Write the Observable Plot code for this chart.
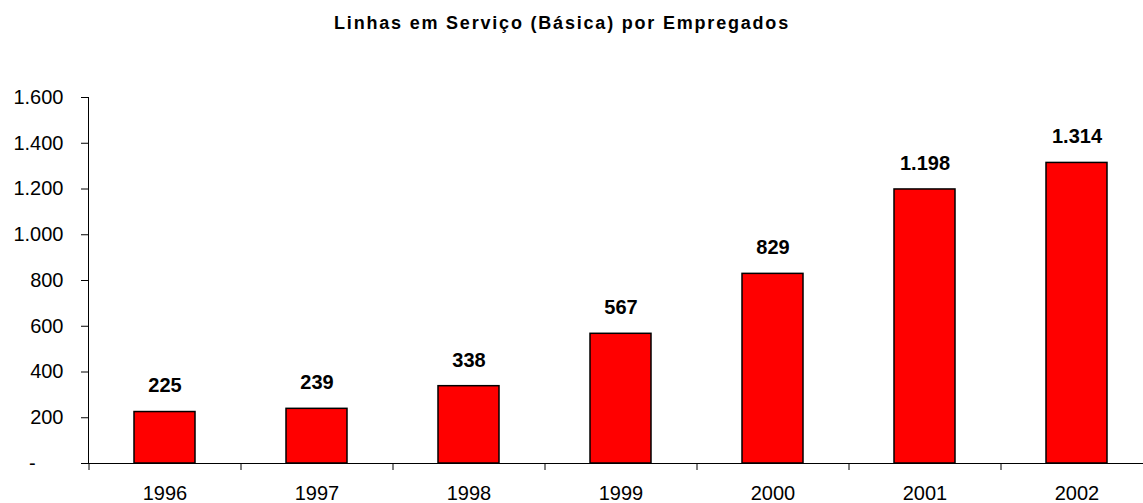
<!DOCTYPE html>
<html>
<head>
<meta charset="utf-8">
<script src="https://cdn.jsdelivr.net/npm/d3@7"></script>
<script src="https://cdn.jsdelivr.net/npm/@observablehq/plot@0.6"></script>
<style>
  html, body { margin: 0; padding: 0; background: #fff; overflow: hidden; }
  #wrap { position: relative; width: 1143px; height: 503px; }
  #title { position: absolute; top: 13px; left: 0; width: 1124px; text-align: center;
           font: bold 18px "Liberation Sans", Arial, sans-serif; line-height: 20px; letter-spacing: 1.8px; color: #000; }
  svg { display: block; }
</style>
</head>
<body>
<div id="wrap">
  <div id="title"></div>
</div>
<script>
const years = ["1996", "1997", "1998", "1999", "2000", "2001", "2002"];
const values = [225, 239, 338, 567, 829, 1198, 1314];
const yTicks = [0, 200, 400, 600, 800, 1000, 1200, 1400, 1600];
const titleText = "Linhas em Serviço (Básica) por Empregados";

document.getElementById("title").textContent = titleText;

const data = years.map((year, i) => ({year, value: values[i]}));
const ptBR = d3.formatLocale({decimal: ",", thousands: ".", grouping: [3], currency: ["", ""]});
const fmt = ptBR.format(",d");
const yFmt = d => d === 0 ? "-\u00a0\u00a0\u00a0\u00a0\u00a0" : fmt(d);

const font = '"Liberation Sans", Arial, sans-serif';

const chart = Plot.plot({
  width: 1143,
  height: 503,
  marginTop: 97,
  marginBottom: 40,
  marginLeft: 88,
  marginRight: 0,
  style: {fontFamily: font, fontSize: "20px", color: "#000", background: "#fff", overflow: "hidden"},
  x: {domain: years, range: [88, 1153], paddingInner: 0.6, paddingOuter: 0.3, align: 0.5, axis: null, label: null},
  y: {domain: [0, 1600], axis: null, label: null},
  marks: [
    Plot.barY(data, {x: "year", y: "value", fill: "#ff0000", stroke: "#000", strokeWidth: 1.5}),
    Plot.frame({anchor: "left", stroke: "#000", strokeWidth: 1}),
    Plot.frame({anchor: "bottom", stroke: "#000", strokeWidth: 1}),
    Plot.axisY({ticks: yTicks, tickSize: 7, tickPadding: 18, tickFormat: yFmt, fontSize: 20, stroke: "#000", fill: "#000", label: null}),
    Plot.axisX({tickSize: 7, tickPadding: 0, text: null, dx: -76, stroke: "#000", label: null}),
    Plot.axisX({tickSize: 0, tickPadding: 22, fontSize: 20, fill: "#000", label: null}),
    Plot.text(data, {x: "year", y: "value", text: d => fmt(d.value), dy: -26, fontSize: 20, fontWeight: "bold", fill: "#000", lineAnchor: "middle"})
  ]
});
document.getElementById("wrap").prepend(chart);
</script>
</body>
</html>
